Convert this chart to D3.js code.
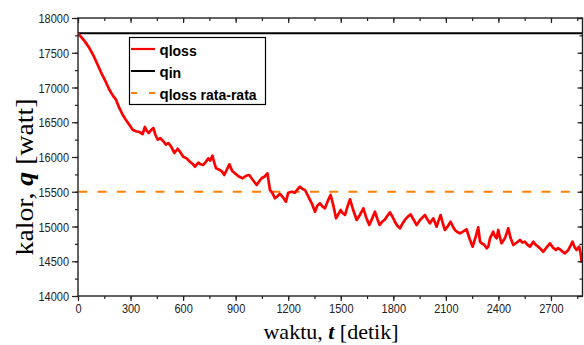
<!DOCTYPE html>
<html><head><meta charset="utf-8">
<script src="https://cdn.jsdelivr.net/npm/d3@7"></script>
<style>
html,body{margin:0;padding:0;background:#fff;}
svg{display:block;}
</style></head>
<body>
<svg id="chart" width="584" height="345"></svg>
<script>
// ---- data ----
const time = [0,20,40,65,90,112,135,155,179,200,217,235,255,275,293,312,330,350,369,382,392,403,418,430,442,455,470,487,502,516,531,550,569,582,601,620,639,655,668,687,700,715,730,744,755,767,778,788,810,822,835,850,864,880,896,918,940,960,978,995,1020,1035,1048,1066,1081,1096,1110,1124,1140,1153,1170,1187,1200,1220,1238,1252,1267,1282,1296,1315,1335,1353,1366,1381,1395,1410,1428,1442,1458,1473,1499,1511,1524,1540,1553,1572,1591,1610,1629,1645,1663,1680,1695,1710,1722,1737,1752,1765,1781,1795,1809,1823,1838,1852,1866,1882,1899,1915,1933,1955,1981,1995,2009,2028,2047,2058,2070,2082,2095,2110,2127,2140,2152,2165,2180,2200,2218,2236,2253,2270,2285,2295,2304,2318,2333,2342,2352,2370,2380,2390,2399,2408,2418,2437,2456,2470,2485,2505,2523,2537,2551,2565,2580,2599,2612,2627,2640,2656,2675,2694,2710,2728,2740,2751,2765,2780,2799,2811,2823,2835,2846,2861,2870,2875,2880];
const qLoss = [17780,17720,17660,17568,17450,17328,17200,17100,16968,16880,16825,16710,16608,16530,16465,16393,16370,16360,16331,16432,16380,16345,16390,16417,16320,16249,16270,16226,16177,16200,16154,16058,16119,16076,16004,15980,15932,15900,15860,15918,15895,15885,15930,15981,15950,16019,15920,15837,15813,15790,15741,15820,15895,15800,15765,15720,15694,15730,15741,15680,15597,15650,15694,15720,15765,15525,15480,15406,15440,15470,15420,15357,15486,15500,15486,15530,15573,15540,15525,15429,15330,15213,15300,15333,15290,15262,15380,15453,15300,15118,15237,15190,15165,15300,15391,15230,15094,15170,15262,15130,15022,15120,15213,15100,15022,15070,15100,15150,15204,15140,15069,15010,14974,15040,15094,15140,15175,15100,15022,15100,15165,15100,15046,15118,14997,15080,15165,15050,14950,15000,15069,15000,14950,14920,14902,14930,14960,14820,14710,14850,14988,14781,14758,14740,14686,14710,14830,14925,14860,14830,14950,14850,14758,14830,14974,14830,14734,14770,14806,14770,14781,14740,14710,14781,14740,14710,14680,14637,14700,14758,14700,14662,14690,14672,14640,14614,14662,14720,14781,14700,14662,14710,14600,14494,14530];
const qIn = 17780;
const qLossAvg = 15500;
const xTicks = [0,300,600,900,1200,1500,1800,2100,2400,2700];
const yTicks = [14000,14500,15000,15500,16000,16500,17000,17500,18000];
const xDomain = [0,2880];
const yDomain = [14000,18000];
const legendLabels = [["q","loss",""],["q","in",""],["q","loss"," rata-rata"]];
const xTitle = ["waktu, ","t"," [detik]"];
const yTitle = ["kalor, ","q"," [watt]"];

// ---- layout ----
const svg = d3.select("#chart");
const L = 78, R = 582.5, T = 18, B = 296;
const x = d3.scaleLinear().domain(xDomain).range([L, R]);
const y = d3.scaleLinear().domain(yDomain).range([B, T]);
const axisColor = "#222";

svg.append("clipPath").attr("id","clip").append("rect")
  .attr("x",L).attr("y",T).attr("width",R-L).attr("height",B-T);

const plot = svg.append("g").attr("clip-path","url(#clip)");

plot.append("line")
  .attr("x1",x(xDomain[0])).attr("x2",x(xDomain[1]))
  .attr("y1",y(qLossAvg)).attr("y2",y(qLossAvg))
  .attr("stroke","#FF8000").attr("stroke-width",2)
  .attr("stroke-dasharray","9,10.3").attr("stroke-dashoffset",-0.3);

plot.append("line")
  .attr("x1",x(xDomain[0])).attr("x2",x(xDomain[1]))
  .attr("y1",y(qIn)).attr("y2",y(qIn))
  .attr("stroke","#000").attr("stroke-width",2);

const data = time.map((t,i)=>[t,qLoss[i]]);
plot.append("path").datum(data)
  .attr("fill","none").attr("stroke","#FF0000").attr("stroke-width",2.7)
  .attr("stroke-linejoin","round")
  .attr("d", d3.line().x(d=>x(d[0])).y(d=>y(d[1])));

// ---- axes ----
const minorX = d3.range(xDomain[0], xDomain[1]+1, 150);
const minorY = d3.range(yDomain[0], yDomain[1]+1, 250);

function styleAxis(g){
  g.select(".domain").remove();
  g.selectAll(".tick line").attr("stroke",axisColor).attr("stroke-width",1.2);
}
svg.append("g").attr("transform",`translate(0,${B})`)
  .call(d3.axisBottom(x).tickValues(minorX).tickSize(3).tickFormat(""))
  .call(styleAxis);
const gx = svg.append("g").attr("transform",`translate(0,${B})`)
  .call(d3.axisBottom(x).tickValues(xTicks).tickSize(5).tickFormat(d3.format("d")))
  .call(styleAxis);
gx.selectAll(".tick text").attr("y",null).attr("dy",null)
  .attr("transform","translate(0,17.3) scale(1,1.18)")
  .attr("font-family","'Liberation Sans', Arial, sans-serif").attr("font-size",11).attr("fill","#222");
svg.append("g").attr("transform",`translate(0,${T})`)
  .call(d3.axisTop(x).tickValues(minorX).tickSize(-3).tickFormat(""))
  .call(styleAxis);
svg.append("g").attr("transform",`translate(0,${T})`)
  .call(d3.axisTop(x).tickValues(xTicks).tickSize(-5).tickFormat(""))
  .call(styleAxis);
svg.append("g").attr("transform",`translate(${L},0)`)
  .call(d3.axisLeft(y).tickValues(minorY).tickSize(3).tickFormat(""))
  .call(styleAxis);
const gy = svg.append("g").attr("transform",`translate(${L},0)`)
  .call(d3.axisLeft(y).tickValues(yTicks).tickSize(6).tickFormat(d3.format("d")))
  .call(styleAxis);
gy.selectAll(".tick text").attr("x",null).attr("dy",null)
  .attr("transform","translate(-9,4.6) scale(1,1.18)")
  .attr("text-anchor","end")
  .attr("font-family","'Liberation Sans', Arial, sans-serif").attr("font-size",11).attr("fill","#222");
svg.append("g").attr("transform",`translate(${R},0)`)
  .call(d3.axisRight(y).tickValues(minorY).tickSize(-3).tickFormat(""))
  .call(styleAxis);
svg.append("g").attr("transform",`translate(${R},0)`)
  .call(d3.axisRight(y).tickValues(yTicks).tickSize(-5).tickFormat(""))
  .call(styleAxis);

svg.append("rect").attr("x",L).attr("y",T).attr("width",R-L).attr("height",B-T)
  .attr("fill","none").attr("stroke",axisColor).attr("stroke-width",1.4);

// ---- legend ----
const lg = svg.append("g");
lg.append("rect").attr("x",129.5).attr("y",37.5).attr("width",136).attr("height",67)
  .attr("fill","#fff").attr("stroke","#000").attr("stroke-width",1.2);
const legColors = ["#FF0000","#000","#FF8000"];
const rowY = [49,71,93];
legendLabels.forEach((lab,i)=>{
  const ln = lg.append("line").attr("x1",131).attr("x2",155).attr("y1",rowY[i]).attr("y2",rowY[i])
    .attr("stroke",legColors[i]).attr("stroke-width", i===0?2.2:2);
  if(i===2) ln.attr("stroke-dasharray","6,12");
  const t = lg.append("text").attr("x",159.5).attr("y",rowY[i]+6)
    .attr("font-family","'Liberation Sans', Arial, sans-serif").attr("font-weight","bold")
    .attr("font-size",15).attr("fill","#000");
  t.append("tspan").text(lab[0]);
  t.append("tspan").attr("font-size",14).attr("dy",1.2).text(lab[1]);
  if(lab[2]) t.append("tspan").attr("font-size",14).text(lab[2]);
});

// ---- titles ----
const xt = svg.append("text").attr("transform",`translate(331,339)`)
  .attr("text-anchor","middle")
  .attr("font-family","'Liberation Serif','Times New Roman',serif").attr("font-size",22).attr("fill","#000");
xt.append("tspan").text(xTitle[0]);
xt.append("tspan").attr("font-weight","bold").attr("font-style","italic").text(xTitle[1]);
xt.append("tspan").text(xTitle[2]);

const yt = svg.append("text").attr("transform",`translate(33,177) rotate(-90) scale(1.11,1)`)
  .attr("text-anchor","middle")
  .attr("font-family","'Liberation Serif','Times New Roman',serif").attr("font-size",25).attr("fill","#000");
yt.append("tspan").text(yTitle[0]);
yt.append("tspan").attr("font-weight","bold").attr("font-style","italic").text(yTitle[1]);
yt.append("tspan").text(yTitle[2]);
</script>
</body></html>
